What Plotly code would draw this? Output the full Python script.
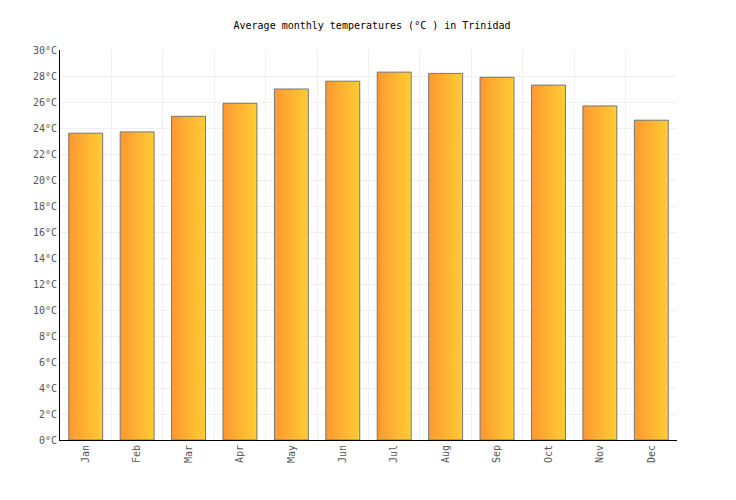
import plotly.graph_objects as go

months = ['Jan', 'Feb', 'Mar', 'Apr', 'May', 'Jun', 'Jul', 'Aug', 'Sep', 'Oct', 'Nov', 'Dec']
temps = [23.6, 23.7, 24.9, 25.9, 27.0, 27.6, 28.3, 28.2, 27.9, 27.3, 25.7, 24.6]

# fake a left-to-right gradient by stacking thin slices of each bar
bar_w = 0.66
n_slices = 24
left_rgb = (255, 153, 51)
right_rgb = (255, 204, 51)

traces = []
for i in range(n_slices):
    t = i / (n_slices - 1)
    col = 'rgb(%d,%d,%d)' % tuple(round(a + (b - a) * t) for a, b in zip(left_rgb, right_rgb))
    sw = bar_w / n_slices
    traces.append(go.Bar(x=months, y=temps,
                         width=sw * 1.6 if i < n_slices - 1 else sw,
                         offset=-bar_w / 2 + i * sw,
                         marker=dict(color=col, line=dict(width=0)),
                         hoverinfo='skip', showlegend=False))

traces.append(go.Bar(x=months, y=temps, width=bar_w, offset=-bar_w / 2,
                     marker=dict(color='rgba(0,0,0,0)', line=dict(color='#777777', width=1)),
                     hovertemplate='%{x}: %{y}°C<extra></extra>', showlegend=False))

fig = go.Figure(data=traces)

# page body adds 8px, so the figure is a bit smaller than the window
fig.update_layout(
    width=728, height=492,
    margin=dict(l=52, r=59, t=42, b=60),
    barmode='overlay',
    plot_bgcolor='white', paper_bgcolor='white',
    font=dict(family='DejaVu Sans Mono', size=10, color='#555555'),
    title=dict(text='Average monthly temperatures (°C ) in Trinidad', x=0.5, xanchor='center',
               y=0.965, yanchor='middle', font=dict(size=10, color='black')),
    xaxis=dict(type='category', tickson='boundaries', showgrid=True, gridcolor='#f0f0f0',
               ticks='', tickangle=-90, showline=True, linecolor='black', linewidth=1,
               range=[-0.5, 11.5]),
    yaxis=dict(range=[0, 30], dtick=2, ticksuffix='°C', showgrid=True, gridcolor='#f0f0f0',
               showline=True, linecolor='black', linewidth=1, ticks='', zeroline=False),
)

fig.write_html("out.html")
